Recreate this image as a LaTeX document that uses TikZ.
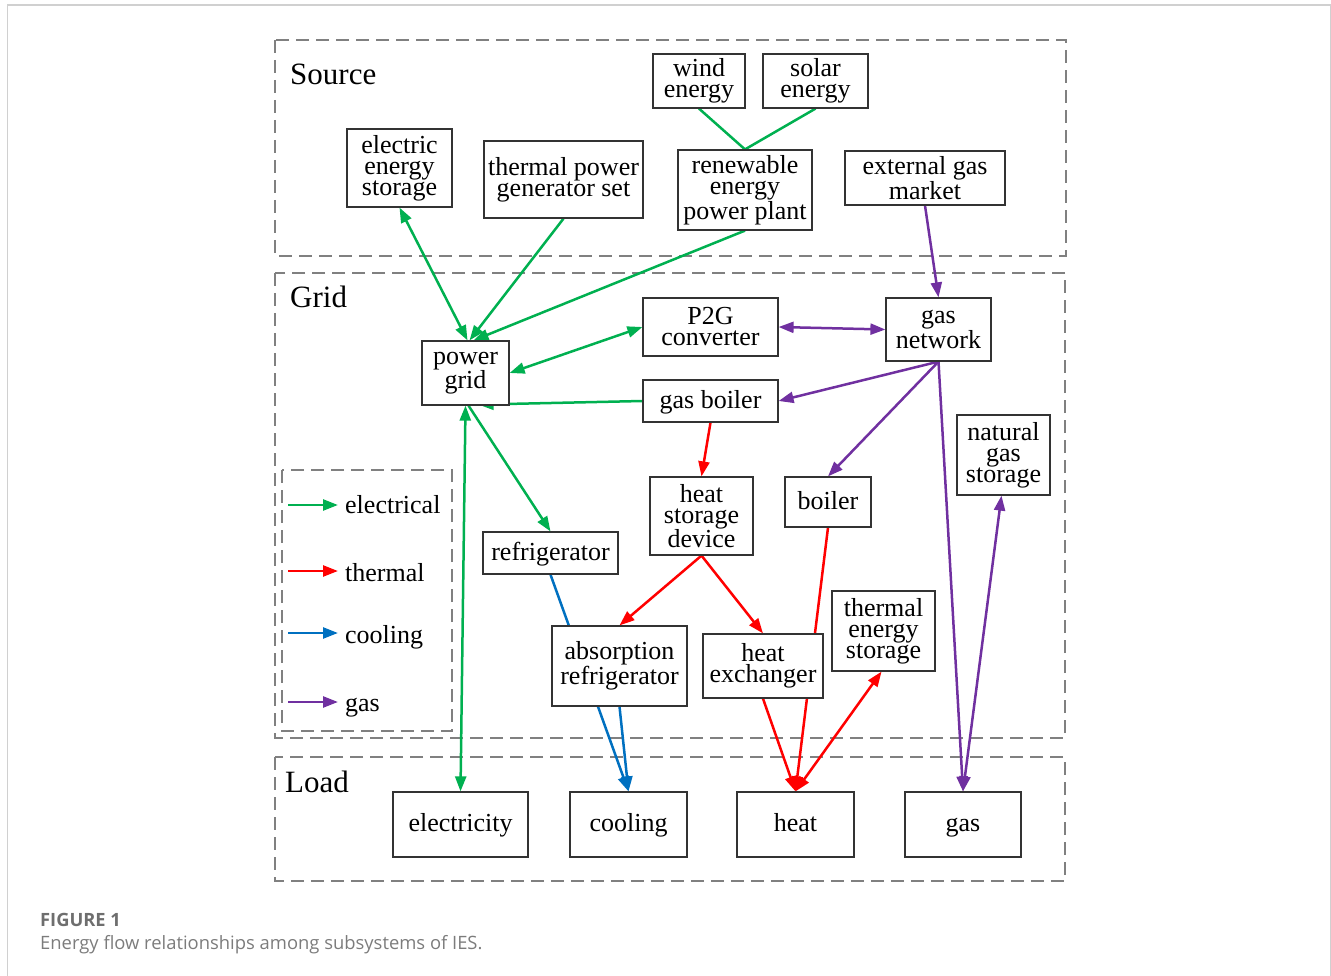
\documentclass[tikz,border=0pt]{standalone}
\usepackage{fontspec}
\setmainfont{Liberation Serif}
\newfontfamily\capfont{Open Sans}
\usetikzlibrary{arrows.meta,backgrounds}
\definecolor{elecc}{RGB}{0,176,80}
\definecolor{thermc}{RGB}{255,0,0}
\definecolor{coolc}{RGB}{0,112,192}
\definecolor{gasc}{RGB}{112,48,160}
\definecolor{framegray}{RGB}{128,128,128}
\definecolor{pagegray}{RGB}{208,208,208}
\definecolor{capgray}{RGB}{110,110,110}
\begin{document}
\begin{tikzpicture}[x=1pt,y=-1pt,
  box/.style={draw=black!80, line width=1.2pt, fill=white, inner sep=0pt,
    align=center, font=\fontsize{26}{21}\selectfont},
  onebox/.style={box, text height=19pt, text depth=5pt},
  region/.style={draw=framegray, line width=2pt, dash pattern=on 13pt off 7pt},
  regionlabel/.style={anchor=base west, inner sep=0pt, font=\fontsize{31}{31}\selectfont},
  legendtext/.style={anchor=base west, inner sep=0pt, font=\fontsize{26}{26}\selectfont},
  tip/.tip={Triangle[length=15pt,width=11pt]},
  link/.style={line width=2.5pt},
  flow/.style={line width=2.5pt, -tip},
  flowboth/.style={line width=2.5pt, tip-tip},
]
\useasboundingbox (0,0) rectangle (1331,976);

% page frame
\draw[pagegray, line width=1.5pt] (7.5,976) -- (7.5,5) -- (1330.5,5) -- (1330.5,976);

% ---------- Source ----------
\node[box, minimum width=92pt,  minimum height=54pt] (wind)  at (699,81)    {wind\\energy};
\node[box, minimum width=105pt, minimum height=54pt] (solar) at (815.5,81)  {solar\\energy};
\node[box, minimum width=105pt, minimum height=78pt] (ees)   at (399.5,168) {electric\\energy\\storage};
\node[box, minimum width=159pt, minimum height=77pt] (tpg)   at (563.5,179.5) {thermal power\\generator set};
\node[box, minimum width=134pt, minimum height=80pt] (ren)   at (745,190)   {renewable\\energy\\power plant};
\node[box, minimum width=160pt, minimum height=54pt] (ext)   at (925,178)   {external gas\\market};

% ---------- Grid ----------
\node[box, minimum width=135pt, minimum height=58pt] (p2g)     at (710.5,327)  {P2G\\converter};
\node[box, minimum width=105pt, minimum height=63pt] (gasnet)  at (938.5,329.5) {gas\\network};
\node[box, minimum width=87pt,  minimum height=64pt] (pgrid)   at (465.5,373)  {power\\grid};
\node[onebox, minimum width=135pt, minimum height=42pt] (gboiler) at (710.5,401)  {gas boiler};
\node[box, minimum width=93pt,  minimum height=80pt] (ngs)     at (1003.5,455) {natural\\gas\\storage};
\node[box, minimum width=103pt, minimum height=78pt] (hsd)     at (701.5,516)  {heat\\storage\\device};
\node[onebox, minimum width=86pt,  minimum height=50pt] (boiler)  at (828,502)    {boiler};
\node[onebox, minimum width=135pt, minimum height=42pt] (refr)    at (550.5,553)  {refrigerator};
\node[box, minimum width=103pt, minimum height=80pt] (tes)     at (883.5,631)  {thermal\\energy\\storage};
\node[box, minimum width=135pt, minimum height=80pt] (absr)    at (619.5,666)  {absorption\\refrigerator};
\node[box, minimum width=120pt, minimum height=64pt] (hex)     at (763,666)    {heat\\exchanger};

% ---------- Load ----------
\node[onebox, minimum width=135pt, minimum height=65pt] (elec) at (460.5,824.5) {electricity};
\node[onebox, minimum width=117pt, minimum height=65pt] (cool) at (628.5,824.5) {cooling};
\node[onebox, minimum width=117pt, minimum height=65pt] (heat) at (795.5,824.5) {heat};
\node[onebox, minimum width=116pt, minimum height=65pt] (gas)  at (963,824.5)   {gas};

% region titles
\node[regionlabel] (srctitle)  at (290,85)  {Source};
\node[regionlabel] (gridtitle) at (290,308) {Grid};
\node[regionlabel] (loadtitle) at (285,792) {Load};

% legend
\coordinate (le1a) at (288,505); \coordinate (le1b) at (338,505);
\coordinate (le2a) at (288,571); \coordinate (le2b) at (338,571);
\coordinate (le3a) at (288,633); \coordinate (le3b) at (338,633);
\coordinate (le4a) at (288,702); \coordinate (le4b) at (338,702);
\node[legendtext] (le1t) at (345,513) {electrical};
\node[legendtext] (le2t) at (345,581) {thermal};
\node[legendtext] (le3t) at (345,643) {cooling};
\node[legendtext] (le4t) at (345,711) {gas};

% caption
\node[anchor=base west, inner sep=0pt, text=capgray,
  font=\capfont\fontsize{18.3}{18.3}\selectfont\bfseries] (figno) at (40,926) {FIGURE 1};
\node[anchor=base west, inner sep=0pt, text=capgray!90!white,
  font=\capfont\fontsize{18.4}{18.4}\selectfont] (figcap) at (40,949)
  {Energy flow relationships among subsystems of IES.};

\begin{pgfonlayer}{background}
  % dashed subsystem frames
  \draw[region] (275,40)  rectangle (1066,256);
  \draw[region] (275,273) rectangle (1065,738);
  \draw[region] (275,757) rectangle (1065,881);
  \draw[region] (282,470) rectangle (452,731);

  % legend arrows
  \draw[flow, elecc]  (le1a) -- (le1b);
  \draw[flow, thermc] (le2a) -- (le2b);
  \draw[flow, coolc]  (le3a) -- (le3b);
  \draw[flow, gasc]   (le4a) -- (le4b);

  % electrical
  \draw[link, elecc] (wind.south) -- (ren.north);
  \draw[link, elecc] (solar.south) -- (ren.north);
  \draw[flowboth, elecc] (ees.south) -- ([xshift=2pt]pgrid.north);
  \draw[flow, elecc] (tpg.south) -- ([xshift=4pt]pgrid.north);
  \draw[flow, elecc] (ren.south) -- ([xshift=8pt]pgrid.north);
  \draw[flowboth, elecc] (p2g.west) -- (pgrid.east);
  \draw[flow, elecc] (gboiler.west) -- ([xshift=13pt,yshift=1pt]pgrid.south);
  \draw[flowboth, elecc] (pgrid.south) -- (elec.north);
  \draw[flow, elecc] ([xshift=3pt]pgrid.south) -- (refr.north);

  % thermal
  \draw[flow, thermc] (gboiler.south) -- (hsd.north);
  \draw[flow, thermc] (hsd.south) -- (absr.north);
  \draw[flow, thermc] (hsd.south) -- (hex.north);
  \draw[flow, thermc] (hex.south) -- (heat.north);
  \draw[flow, thermc] (boiler.south) -- (heat.north);
  \draw[flowboth, thermc] (heat.north) -- ([xshift=-2pt]tes.south);

  % cooling
  \draw[flow, coolc] (refr.south) -- (cool.north);
  \draw[flow, coolc] (absr.south) -- (cool.north);

  % gas
  \draw[flow, gasc] (ext.south) -- (gasnet.north);
  \draw[flowboth, gasc] (p2g.east) -- (gasnet.west);
  \draw[flow, gasc] (gasnet.south) -- (gboiler.east);
  \draw[flow, gasc] (gasnet.south) -- (boiler.north);
  \draw[flow, gasc] (gasnet.south) -- (gas.north);
  \draw[flowboth, gasc] (gas.north) -- ([xshift=-2pt]ngs.south);
\end{pgfonlayer}
\end{tikzpicture}
\end{document}
